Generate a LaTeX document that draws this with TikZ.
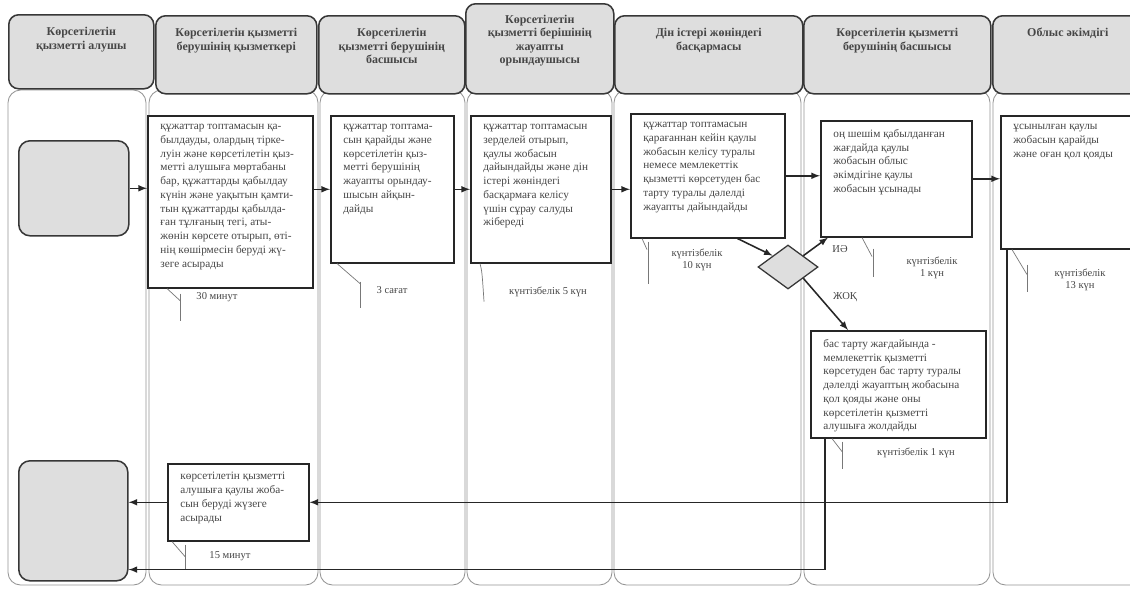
\documentclass[tikz,border=0pt]{standalone}
\usepackage{fontspec}
\setmainfont{Liberation Serif}
\usetikzlibrary{shapes.geometric}
\definecolor{hdrgray}{RGB}{222,222,222}
\definecolor{edgegray}{RGB}{55,55,55}
\definecolor{lanegray}{RGB}{150,150,150}
\definecolor{txtgray}{RGB}{70,70,70}
% box contents: width (px), height (px), text
\newcommand{\inbox}[3]{\parbox[c][\dimexpr0.025cm*#2-12pt\relax][t]{\dimexpr0.025cm*#1-18pt\relax}{\raggedright #3}}
\newcommand{\hdbox}[4]{\parbox[c][\dimexpr0.025cm*#2\relax][t]{\dimexpr0.025cm*#1\relax}{\centering\vspace*{#3}#4}}

\begin{document}
\begin{tikzpicture}[x=0.025cm,y=-0.025cm,>=latex,
    header/.style={draw=edgegray,line width=1.1pt,fill=hdrgray,rounded corners=7pt,inner sep=0pt,anchor=north west,
        font=\fontsize{8.5}{9.5}\selectfont\bfseries,text=txtgray},
    proc/.style={draw=black!85,line width=1.1pt,fill=white,inner xsep=9pt,inner ysep=6pt,anchor=north west,
        font=\fontsize{8}{9.8}\selectfont,text=txtgray},
    term/.style={draw=edgegray,line width=1.1pt,fill=hdrgray,rounded corners=8pt,inner sep=0pt,anchor=north west},
    decision/.style={diamond,draw=edgegray,line width=0.9pt,fill=hdrgray,minimum width=1.5cm,minimum height=1.1cm,inner sep=0pt},
    flow/.style={->,line width=1.1pt,black!85},
    note/.style={line width=0.5pt,lanegray!80!black},
    time/.style={font=\fontsize{7.5}{9}\selectfont,text=txtgray,align=center},
    lane/.style={draw=lanegray,line width=0.6pt,rounded corners=9pt}]

\useasboundingbox (0,0) rectangle (1130,588);
\fill[white] (0,0) rectangle (1130,588);

% swim lanes
\foreach \xa/\xb in {8/146, 149/318, 320/465, 467/612, 614/801, 804/990, 993/1145}
    \draw[lane] (\xa,90) rectangle (\xb,585);

% lane headers
\node[header] (recv)   at (8,14)   {\hdbox{145}{74}{9pt}{Көрсетілетін\\қызметті алушы}};
\node[header] (staff)  at (155,15) {\hdbox{161}{78}{9pt}{Көрсетілетін қызметті\\берушінің қызметкері}};
\node[header] (chief)  at (318,15) {\hdbox{146}{78}{9pt}{Көрсетілетін\\қызметті берушінің\\басшысы}};
\node[header] (execr)  at (465,3)  {\hdbox{148}{90}{8pt}{Көрсетілетін\\қызметті берішінің\\жауапты\\орындаушысы}};
\node[header] (dept)   at (614,15) {\hdbox{188}{78}{9pt}{Дін істері жөніндегі\\басқармасы}};
\node[header] (chiefb) at (803,15) {\hdbox{187}{78}{9pt}{Көрсетілетін қызметті\\берушінің басшысы}};
\node[header] (akimat) at (992,15) {\hdbox{150}{78}{9pt}{Облыс әкімдігі}};

% start and finish
\node[term,minimum width=2.75cm,minimum height=2.375cm] (start)  at (18,140) {};
\node[term,minimum width=2.725cm,minimum height=3cm] (finish) at (18,460) {};

% process steps
\node[proc] (accept) at (147,115) {\inbox{165}{172}{құжаттар топтамасын қа-\\былдауды, олардың тірке-\\луін және көрсетілетін қыз-\\метті алушыға мөртабаны\\бар, құжаттарды қабылдау\\күнін және уақытын қамти-\\тын құжаттарды қабылда-\\ған тұлғаның тегі, аты-\\жөнін көрсете отырып, өті-\\нің көшірмесін беруді жү-\\зеге асырады}};
\node[proc] (assign) at (330,115) {\inbox{123}{147}{құжаттар топтама-\\сын қарайды және\\көрсетілетін қыз-\\метті берушінің\\жауапты орындау-\\шысын айқын-\\дайды}};
\node[proc] (draft)  at (470,115) {\inbox{140}{147}{құжаттар топтамасын\\зерделей отырып,\\қаулы жобасын\\дайындайды және дін\\істері жөніндегі\\басқармаға келісу\\үшін сұрау салуды\\жібереді}};
\node[proc] (agree)  at (630,113) {\inbox{154}{124}{құжаттар топтамасын\\қарағаннан кейін қаулы\\жобасын келісу туралы\\немесе мемлекеттік\\қызметті көрсетуден бас\\тарту туралы дәлелді\\жауапты дайындайды}};
\node[proc] (submit) at (820,120) {\inbox{151}{116}{оң шешім қабылданған\\жағдайда қаулы\\жобасын облыс\\әкімдігіне қаулы\\жобасын ұсынады}};
\node[proc] (sign)   at (1000,115) {\inbox{145}{133}{ұсынылған қаулы\\жобасын қарайды\\және оған қол қояды}};
\node[proc] (refuse) at (810,330) {\inbox{175}{107}{бас тарту жағдайында -\\мемлекеттік қызметті\\көрсетуден бас тарту туралы\\дәлелді жауаптың жобасына\\қол қояды және оны\\көрсетілетін қызметті\\алушыға жолдайды}};
\node[proc] (issue)  at (167,463) {\inbox{141}{77}{көрсетілетін қызметті\\алушыға қаулы жоба-\\сын беруді жүзеге\\асырады}};

\node[decision] (decide) at (788,267) {};

% durations
\node[time] (tAccept) at (217,297) {30 минут};
\node[time] (tAssign) at (392,290) {3 сағат};
\node[time] (tDraft)  at (548,292) {күнтізбелік 5 күн};
\node[time] (tAgree)  at (697,260) {күнтізбелік\\10 күн};
\node[time] (tSubmit) at (932,268) {күнтізбелік\\1 күн};
\node[time] (tSign)   at (1080,280) {күнтізбелік\\13 күн};
\node[time] (tRefuse) at (916,453) {күнтізбелік 1 күн};
\node[time] (tIssue)  at (230,556) {15 минут};
\node[time] (yes) at (840,249) {ИӘ};
\node[time] (no)  at (845,297) {ЖОҚ};

% duration marks
\draw[note] ([xshift=0.5cm]accept.south west) -- ++(13,12);
\draw[note] ([xshift=0.825cm]accept.south west) ++(0,5) -- ++(0,27);
\draw[note] ([xshift=0.175cm]assign.south west) -- ++(23,20);
\draw[note] ([xshift=0.75cm]assign.south west) ++(0,18) -- ++(0,26);
\draw[note] ([xshift=0.25cm]draft.south west) .. controls ++(2,8) .. ++(4,38);
\draw[note] ([xshift=0.3cm]agree.south west) -- ++(5,11);
\draw[note] ([xshift=0.45cm]agree.south west) ++(0,3) -- ++(0,42);
\draw[note] ([xshift=1.05cm]submit.south west) -- ++(10,19);
\draw[note] ([xshift=1.325cm]submit.south west) ++(0,11) -- ++(0,28);
\draw[note] ([xshift=0.3cm]sign.south west) -- ++(15,25);
\draw[note] ([xshift=0.675cm]sign.south west) ++(0,15) -- ++(0,27);
\draw[note] ([xshift=0.55cm]refuse.south west) -- ++(10,13);
\draw[note] ([xshift=0.8cm]refuse.south west) ++(0,3) -- ++(0,27);
\draw[note] ([xshift=0.125cm]issue.south west) -- ++(13,15);
\draw[note] ([xshift=0.45cm]issue.south west) ++(0,3) -- ++(0,24);

% flow
\draw[flow] (start.east) -- (start.east -| accept.west);
\draw[flow] (accept.east |- assign.west) -- (assign.west);
\draw[flow] (assign.east) -- (draft.west);
\draw[flow] (draft.east) -- (draft.east -| agree.west);
\draw[flow] (agree.east) -- (agree.east -| submit.west);
\draw[flow] (submit.east) -- (submit.east -| sign.west);
\draw[flow] ([xshift=-1.2cm]agree.south east) -- (decide.north west);
\draw[flow] (decide.north east) -- ([xshift=0.2cm]submit.south west);
\draw[flow] (decide.south east) -- ([xshift=0.95cm]refuse.north west);
\draw[flow] ([xshift=0.175cm]sign.south west) |- (issue.east);
\draw[flow] (issue.west) -- (issue.west -| finish.east);
\draw[flow] ([xshift=0.375cm]refuse.south west) |- ([yshift=0.3cm]finish.south east);
\end{tikzpicture}
\end{document}
